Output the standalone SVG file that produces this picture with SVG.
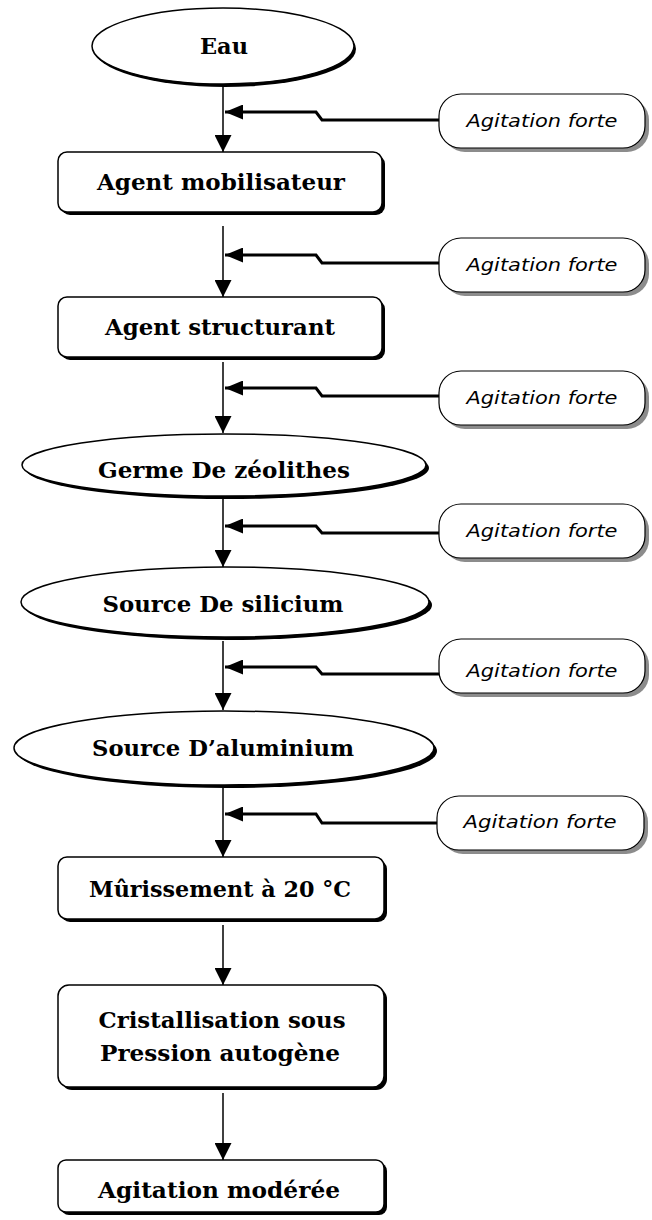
<svg xmlns="http://www.w3.org/2000/svg" width="652" height="1220" viewBox="0 0 652 1220">
  <style>
    .node { fill: #fff; stroke: #000; stroke-width: 1.5; }
    .shadow { fill: #000; }
    .tag { fill: #fff; stroke: #000; stroke-width: 1.2; }
    .tagshadow { fill: #8c8c8c; }
    .lbl { font-family: "DejaVu Serif", "Liberation Serif", serif; font-weight: bold; font-size: 22px; fill: #000; text-anchor: middle; }
    .tagtxt { font-family: "DejaVu Sans", "Liberation Sans", sans-serif; font-style: italic; font-size: 17px; fill: #000; text-anchor: middle; }
    .flow { fill: none; stroke: #000; stroke-width: 1.5; }
    .feed { fill: none; stroke: #000; stroke-width: 3; }
  </style>
  <defs>
    <marker id="down" markerWidth="18" markerHeight="17" refX="17" refY="8.5" orient="auto" markerUnits="userSpaceOnUse">
      <path d="M0,0 L17,8.5 L0,17 Z" fill="#000"/>
    </marker>
    <marker id="left" markerWidth="19" markerHeight="15" refX="18" refY="7.5" orient="auto" markerUnits="userSpaceOnUse">
      <path d="M0,0 L18,7.5 L0,15 Z" fill="#000"/>
    </marker>
  </defs>

  <!-- main flow connectors -->
  <g id="connectors">
    <line class="flow" x1="223" y1="86" x2="223" y2="152" marker-end="url(#down)"/>
    <line class="flow" x1="223" y1="226" x2="223" y2="297" marker-end="url(#down)"/>
    <line class="flow" x1="223" y1="362" x2="223" y2="433" marker-end="url(#down)"/>
    <line class="flow" x1="223" y1="499" x2="223" y2="567" marker-end="url(#down)"/>
    <line class="flow" x1="223" y1="641" x2="223" y2="710" marker-end="url(#down)"/>
    <line class="flow" x1="223" y1="787" x2="223" y2="857" marker-end="url(#down)"/>
    <line class="flow" x1="223" y1="925" x2="223" y2="985" marker-end="url(#down)"/>
    <line class="flow" x1="223" y1="1093" x2="223" y2="1160" marker-end="url(#down)"/>

    <!-- side feeds from the stirring tags -->
    <path class="feed" d="M439,120 H322 L316,112 H225" marker-end="url(#left)"/>
    <path class="feed" d="M439,263 H322 L316,255 H225" marker-end="url(#left)"/>
    <path class="feed" d="M439,396 H322 L316,388 H225" marker-end="url(#left)"/>
    <path class="feed" d="M439,533 H322 L316,526 H225" marker-end="url(#left)"/>
    <path class="feed" d="M439,674 H322 L316,667 H225" marker-end="url(#left)"/>
    <path class="feed" d="M437,823 H322 L316,814 H225" marker-end="url(#left)"/>
  </g>

  <!-- process steps -->
  <g id="eau">
    <ellipse class="shadow" cx="225" cy="49" rx="131" ry="38"/>
    <ellipse class="node" cx="223" cy="46" rx="131" ry="38"/>
    <text class="lbl" x="224" y="54" textLength="48" lengthAdjust="spacingAndGlyphs">Eau</text>
  </g>
  <g id="agent-mobilisateur">
    <rect class="shadow" x="61" y="155" width="324" height="60" rx="9"/>
    <rect class="node" x="58" y="152" width="324" height="60" rx="9"/>
    <text class="lbl" x="221" y="190" textLength="248" lengthAdjust="spacingAndGlyphs">Agent mobilisateur</text>
  </g>
  <g id="agent-structurant">
    <rect class="shadow" x="61" y="300" width="324" height="60" rx="9"/>
    <rect class="node" x="58" y="297" width="324" height="60" rx="9"/>
    <text class="lbl" x="220" y="335" textLength="230" lengthAdjust="spacingAndGlyphs">Agent structurant</text>
  </g>
  <g id="germe">
    <ellipse class="shadow" cx="227" cy="468" rx="202" ry="31"/>
    <ellipse class="node" cx="224" cy="465" rx="202" ry="31"/>
    <text class="lbl" x="224" y="478" textLength="252" lengthAdjust="spacingAndGlyphs">Germe De zéolithes</text>
  </g>
  <g id="source-silicium">
    <ellipse class="shadow" cx="228" cy="605" rx="204" ry="35"/>
    <ellipse class="node" cx="225" cy="602" rx="204" ry="35"/>
    <text class="lbl" x="223" y="612" textLength="241" lengthAdjust="spacingAndGlyphs">Source De silicium</text>
  </g>
  <g id="source-aluminium">
    <ellipse class="shadow" cx="227" cy="751" rx="210" ry="37"/>
    <ellipse class="node" cx="224" cy="748" rx="210" ry="37"/>
    <text class="lbl" x="223" y="756" textLength="262" lengthAdjust="spacingAndGlyphs">Source D’aluminium</text>
  </g>
  <g id="murissement">
    <rect class="shadow" x="61" y="860" width="326" height="62" rx="9"/>
    <rect class="node" x="58" y="857" width="326" height="62" rx="9"/>
    <text class="lbl" x="220" y="897" textLength="262" lengthAdjust="spacingAndGlyphs">Mûrissement à 20 °C</text>
  </g>
  <g id="cristallisation">
    <rect class="shadow" x="61" y="988" width="326" height="102" rx="11"/>
    <rect class="node" x="58" y="985" width="326" height="102" rx="11"/>
    <text class="lbl" x="222" y="1028" textLength="247" lengthAdjust="spacingAndGlyphs">Cristallisation sous</text>
    <text class="lbl" x="220" y="1061" textLength="240" lengthAdjust="spacingAndGlyphs">Pression autogène</text>
  </g>
  <g id="agitation-moderee">
    <rect class="shadow" x="61" y="1163" width="326" height="52" rx="8"/>
    <rect class="node" x="58" y="1160" width="326" height="52" rx="8"/>
    <text class="lbl" x="219" y="1198" textLength="242" lengthAdjust="spacingAndGlyphs">Agitation modérée</text>
  </g>

  <!-- stirring condition tags -->
  <g id="tag-1">
    <rect class="tagshadow" x="443" y="98" width="206" height="54" rx="22"/>
    <rect class="tag" x="439" y="94" width="206" height="54" rx="22"/>
    <text class="tagtxt" x="542" y="127" textLength="151" lengthAdjust="spacingAndGlyphs">Agitation forte</text>
  </g>
  <g id="tag-2">
    <rect class="tagshadow" x="443" y="242" width="206" height="54" rx="22"/>
    <rect class="tag" x="439" y="238" width="206" height="54" rx="22"/>
    <text class="tagtxt" x="542" y="271" textLength="151" lengthAdjust="spacingAndGlyphs">Agitation forte</text>
  </g>
  <g id="tag-3">
    <rect class="tagshadow" x="443" y="375" width="206" height="54" rx="22"/>
    <rect class="tag" x="439" y="371" width="206" height="54" rx="22"/>
    <text class="tagtxt" x="542" y="404" textLength="151" lengthAdjust="spacingAndGlyphs">Agitation forte</text>
  </g>
  <g id="tag-4">
    <rect class="tagshadow" x="443" y="508" width="206" height="54" rx="22"/>
    <rect class="tag" x="439" y="504" width="206" height="54" rx="22"/>
    <text class="tagtxt" x="542" y="537" textLength="151" lengthAdjust="spacingAndGlyphs">Agitation forte</text>
  </g>
  <g id="tag-5">
    <rect class="tagshadow" x="443" y="643" width="206" height="54" rx="22"/>
    <rect class="tag" x="439" y="639" width="206" height="54" rx="22"/>
    <text class="tagtxt" x="542" y="677" textLength="151" lengthAdjust="spacingAndGlyphs">Agitation forte</text>
  </g>
  <g id="tag-6">
    <rect class="tagshadow" x="441" y="800" width="207" height="54" rx="22"/>
    <rect class="tag" x="437" y="796" width="207" height="54" rx="22"/>
    <text class="tagtxt" x="540" y="828" textLength="153" lengthAdjust="spacingAndGlyphs">Agitation forte</text>
  </g>
</svg>
